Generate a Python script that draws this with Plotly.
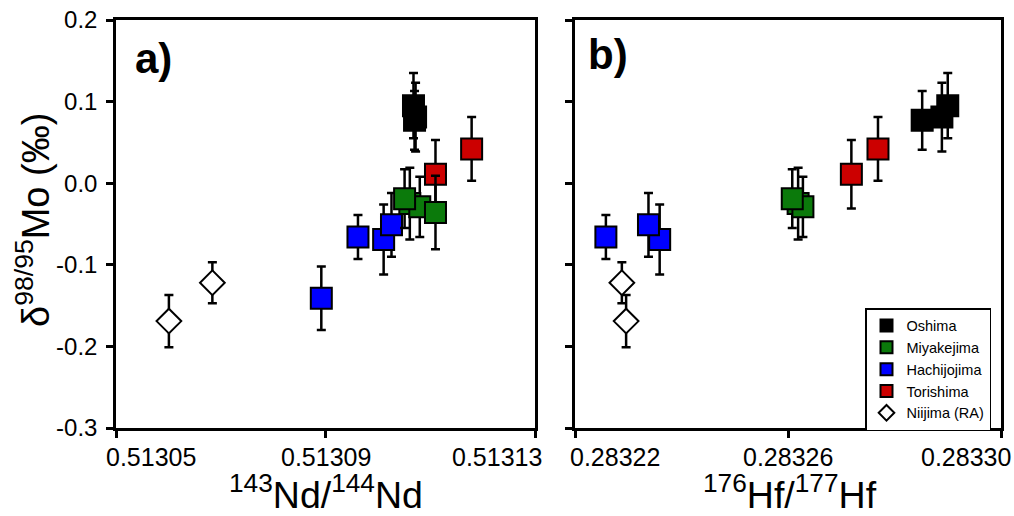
import plotly.graph_objects as go

# ---------------- data ----------------
# Oshima
oshima_nd = [0.5131070, 0.5131072, 0.5131068]
oshima_hf = [0.2832852, 0.2832889, 0.2832900]
oshima_mo = [0.077, 0.081, 0.095]
oshima_err = [0.036, 0.042, 0.040]

# Miyakejima (last sample has no Hf value)
miy_nd = [0.5131061, 0.5131080, 0.5131051, 0.5131110]
miy_hf = [0.2832619, 0.2832628, 0.2832608, None]
miy_mo = [-0.025, -0.029, -0.019, -0.036]
miy_err = [0.044, 0.037, 0.036, 0.045]

# Hachijojima (first sample has no Hf value)
hachi_nd = [0.5130892, 0.5130962, 0.5131011, 0.5131026]
hachi_hf = [None, 0.2832258, 0.2832359, 0.2832338]
hachi_mo = [-0.141, -0.066, -0.069, -0.051]
hachi_err = [0.039, 0.027, 0.043, 0.039]

# Torishima
tori_nd = [0.5131110, 0.5131179]
tori_hf = [0.2832719, 0.2832769]
tori_mo = [0.011, 0.042]
tori_err = [0.042, 0.039]

# Niijima (RA)
nii_nd = [0.5130601, 0.5130684]
nii_hf = [0.2832296, 0.2832288]
nii_mo = [-0.169, -0.122]
nii_err = [0.032, 0.025]

# axes ticks
y_tickvals = [0.2, 0.1, 0.0, -0.1, -0.2, -0.3]
y_ticktext = ["0.2", "0.1", "0.0", "-0.1", "-0.2", "-0.3"]
nd_tickvals = [0.51305, 0.51309, 0.51313]
nd_ticktext = ["0.51305", "0.51309", "0.51313"]
hf_tickvals = [0.28322, 0.28326, 0.28330]
hf_ticktext = ["0.28322", "0.28326", "0.28330"]

FONT = "Liberation Sans, Arial, Helvetica, sans-serif"
W, H = 1014, 516

series = [
    # name, nd, hf, mo, err, color, symbol, size, rank
    ("Niijima (RA)", nii_nd, nii_hf, nii_mo, nii_err, "white", "diamond", 19, 5),
    ("Hachijojima", hachi_nd, hachi_hf, hachi_mo, hachi_err, "#0000ff", "square", 21, 3),
    ("Torishima", tori_nd, tori_hf, tori_mo, tori_err, "#cc0000", "square", 21, 4),
    ("Miyakejima", miy_nd, miy_hf, miy_mo, miy_err, "#0b7a0b", "square", 21, 2),
    ("Oshima", oshima_nd, oshima_hf, oshima_mo, oshima_err, "#000000", "square", 21, 1),
]

fig = go.Figure()
for name, nd, hf, mo, err, color, symbol, size, rank in series:
    for xs, xa, ya, show in [(nd, "x", "y", True), (hf, "x2", "y2", False)]:
        pts = [(a, b, c) for a, b, c in zip(xs, mo, err) if a is not None]
        fig.add_trace(go.Scatter(
            x=[p[0] for p in pts], y=[p[1] for p in pts],
            mode="markers", name=name, legendgroup=name, legendrank=rank,
            showlegend=show, xaxis=xa, yaxis=ya,
            marker=dict(symbol=symbol, size=size, color=color,
                        line=dict(color="black", width=2)),
            error_y=dict(type="data", array=[p[2] for p in pts], visible=True,
                         color="black", thickness=2.5, width=4.5),
            hoverinfo="skip",
        ))

ax_common = dict(showgrid=False, zeroline=False, showline=True, mirror=True,
                 linecolor="black", linewidth=2.5, ticks="outside", ticklen=7,
                 tickwidth=2.5, tickcolor="black", automargin=False,
                 tickfont=dict(family=FONT, size=24, color="black"))

ydom = [1 - 428 / H, 1 - 20 / H]
fig.update_layout(
    width=W, height=H,
    margin=dict(l=0, r=0, t=0, b=0),
    paper_bgcolor="white", plot_bgcolor="white",
    font=dict(family=FONT, color="black"),
    xaxis=dict(domain=[116 / W, 535 / W], range=[0.51305, 0.51313],
               tickmode="array", tickvals=nd_tickvals, showticklabels=False,
               anchor="y", **ax_common),
    yaxis=dict(domain=ydom, range=[-0.3, 0.2], tickmode="array",
               tickvals=y_tickvals, ticktext=y_ticktext, anchor="x",
               ticklabelstandoff=4, **ax_common),
    xaxis2=dict(domain=[575 / W, 1001 / W], range=[0.28322, 0.28330],
                tickmode="array", tickvals=hf_tickvals, showticklabels=False,
                anchor="y2", **ax_common),
    yaxis2=dict(domain=ydom, range=[-0.3, 0.2], tickmode="array",
                tickvals=y_tickvals, showticklabels=False, anchor="x2",
                **ax_common),
    legend=dict(x=991 / W, xanchor="right", y=1 - 308 / H, yanchor="top",
                bgcolor="white", bordercolor="black", borderwidth=1.5,
                font=dict(family=FONT, size=14.5, color="black"),
                itemsizing="constant", traceorder="normal", tracegroupgap=0),
    showlegend=True,
)

annos = [
    dict(text="<b>a)</b>", x=133 / W, y=1 - 59 / H, xanchor="left", yanchor="middle",
         font=dict(size=42)),
    dict(text="<b>b)</b>", x=586 / W, y=1 - 55 / H, xanchor="left", yanchor="middle",
         font=dict(size=42)),
    dict(text="<sup>143</sup>Nd/<sup>144</sup>Nd", x=326 / W, y=1 - 492 / H,
         xanchor="center", yanchor="middle", font=dict(size=37.5)),
    dict(text="<sup>176</sup>Hf/<sup>177</sup>Hf", x=790 / W, y=1 - 492 / H,
         xanchor="center", yanchor="middle", font=dict(size=37.5)),
    dict(text="δ<sup>98/95</sup>Mo (‰)", x=33 / W, y=1 - 220 / H, textangle=-90,
         xanchor="center", yanchor="middle", font=dict(size=38)),
]
for a in annos:
    a.update(xref="paper", yref="paper")
    a["font"].update(family=FONT, color="black")

# x tick labels placed on the axes' own scales (edge labels sit inside the ends)
anchors = ["left", "center", "right"]
for xref, vals, texts, shifts in [("x", nd_tickvals, nd_ticktext, [-12, 0, 9]),
                                  ("x2", hf_tickvals, hf_ticktext, [-7, 0, 12])]:
    for v, t, anc, sh in zip(vals, texts, anchors, shifts):
        annos.append(dict(text=t, x=v, xref=xref, y=1 - 457 / H, yref="paper",
                          xanchor=anc, yanchor="middle", xshift=sh,
                          font=dict(family=FONT, size=25, color="black")))

for a in annos:
    fig.add_annotation(showarrow=False, **a)

fig.write_html("out.html",
               config={"displayModeBar": False},
               post_script="document.body.style.margin='0px';"
                           "document.body.style.overflow='hidden';")
